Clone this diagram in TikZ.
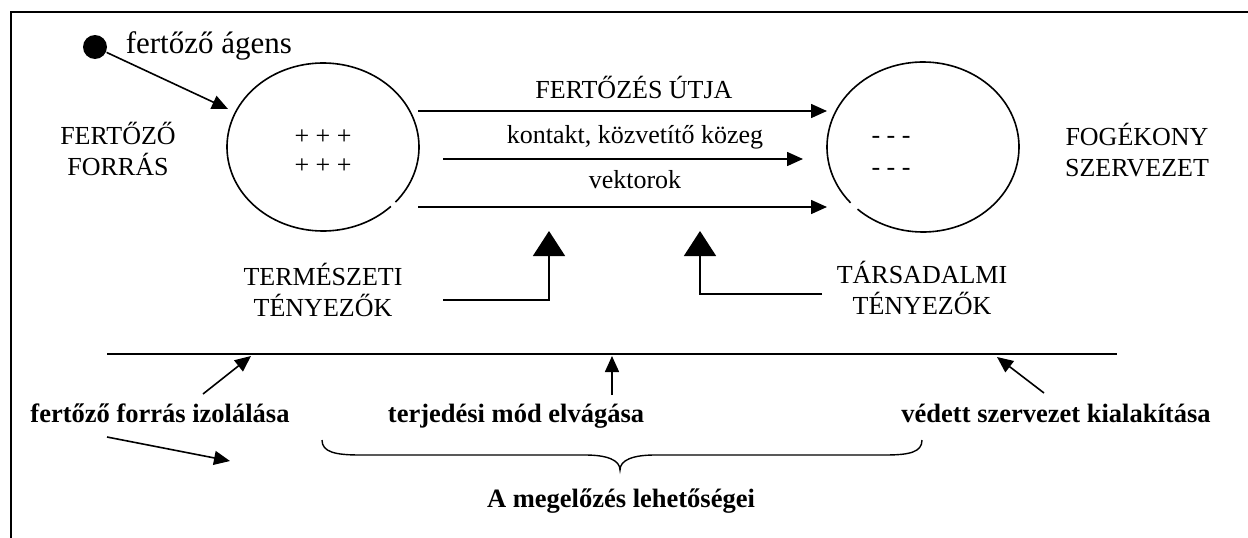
\documentclass[tikz,border=0pt]{standalone}
\usepackage{fontspec}
\setmainfont{Liberation Serif}
\usetikzlibrary{arrows.meta,shapes.geometric}
\begin{document}
\begin{tikzpicture}[x=1pt,y=1pt,
  line width=1.6pt,
  arr/.style={-{Triangle[length=16pt,width=14pt]}},
  bigarr/.style={-{Triangle[length=25pt,width=32pt]}},
  lbl/.style={inner sep=0pt,font=\fontsize{26}{31}\selectfont},
  lbl2/.style={lbl,align=center},
  blbl/.style={inner sep=0pt,font=\fontsize{26.5}{31}\selectfont\bfseries},
]
\useasboundingbox (0,0) rectangle (1248,-538);
% frame
\draw[line width=2pt] (11,-538) -- (11,-12) -- (1248,-12);

% agent
\node[circle,fill=black,minimum size=24pt,inner sep=0pt] (dot) at (95,-47) {};
\node[inner sep=0pt,anchor=base west,font=\fontsize{31}{36}\selectfont] (agens) at (125,-53) {fertőző ágens};
\coordinate (agtip) at (228,-109);
\draw[arr] (dot) -- (agtip);

% labels left/right
\node[lbl2] (forras) at (118,-149) {FERTŐZŐ\\FORRÁS};
\node[lbl2] (fogekony) at (1137,-150) {FOGÉKONY\\SZERVEZET};

% ellipses with small gaps
\coordinate (c1) at (323,-147);
\coordinate (c2) at (923,-147);
\draw (c1) ++(-41:96 and 84) arc[start angle=-41, end angle=315, x radius=96, y radius=84];
\draw (c2) ++(227:96 and 85) arc[start angle=227, end angle=581, x radius=96, y radius=85];
\node[lbl,anchor=base] (p1) at (323,-144) {+ + +};
\node[lbl,anchor=base] (p2) at (323,-173) {+ + +};
\node[lbl,anchor=base] (m1) at (891,-143) {- - -};
\node[lbl,anchor=base] (m2) at (891,-175) {- - -};

% transmission routes
\coordinate (r1s) at (418,-111); \coordinate (r1e) at (827,-111);
\coordinate (r2s) at (443,-159); \coordinate (r2e) at (803,-159);
\coordinate (r3s) at (418,-207); \coordinate (r3e) at (827,-207);
\draw[arr] (r1s) -- (r1e);
\draw[arr] (r2s) -- (r2e);
\draw[arr] (r3s) -- (r3e);
\node[lbl,anchor=base] (utja) at (634,-98) {FERTŐZÉS ÚTJA};
\node[lbl,anchor=base] (kontakt) at (635,-143) {kontakt, közvetítő közeg};
\node[lbl,anchor=base] (vektor) at (635,-188) {vektorok};

% factors
\node[lbl2] (term) at (323,-290) {TERMÉSZETI\\TÉNYEZŐK};
\node[lbl2] (tars) at (922,-288) {TÁRSADALMI\\TÉNYEZŐK};
\coordinate (ts) at (443,-300); \coordinate (tt) at (549,-231);
\coordinate (ss) at (822,-294); \coordinate (st) at (700,-231);
\draw[bigarr] (ts) -| (tt);
\draw[bigarr] (ss) -| (st);

% prevention line
\coordinate (la) at (107,-354); \coordinate (lb) at (1117,-354);
\draw (la) -- (lb);
\node[blbl,anchor=base] (izol) at (160,-422) {fertőző forrás izolálása};
\node[blbl,anchor=base] (terj) at (516,-422) {terjedési mód elvágása};
\node[blbl,anchor=base] (vedett) at (1056,-422) {védett szervezet kialakítása};
\coordinate (a1s) at (203,-394); \coordinate (a1e) at (251,-356);
\coordinate (a2s) at (612,-395); \coordinate (a2e) at (612,-356);
\coordinate (a3s) at (1044,-393); \coordinate (a3e) at (997,-357);
\draw[arr] (a1s) -- (a1e);
\draw[arr] (a2s) -- (a2e);
\draw[arr] (a3s) -- (a3e);
\coordinate (a4s) at (107,-437); \coordinate (a4e) at (230,-461);
\draw[arr] (a4s) -- (a4e);

% brace
\draw[line width=1.4pt] (322,-440) .. controls (322,-452) and (335,-455) .. (360,-455) -- (585,-455)
  .. controls (607,-455) and (620,-460) .. (620,-470)
  .. controls (620,-460) and (633,-455) .. (655,-455) -- (885,-455)
  .. controls (910,-455) and (922,-452) .. (922,-440);
\node[blbl,anchor=base] (lehet) at (621,-507) {A megelőzés lehetőségei};
\end{tikzpicture}
\end{document}
